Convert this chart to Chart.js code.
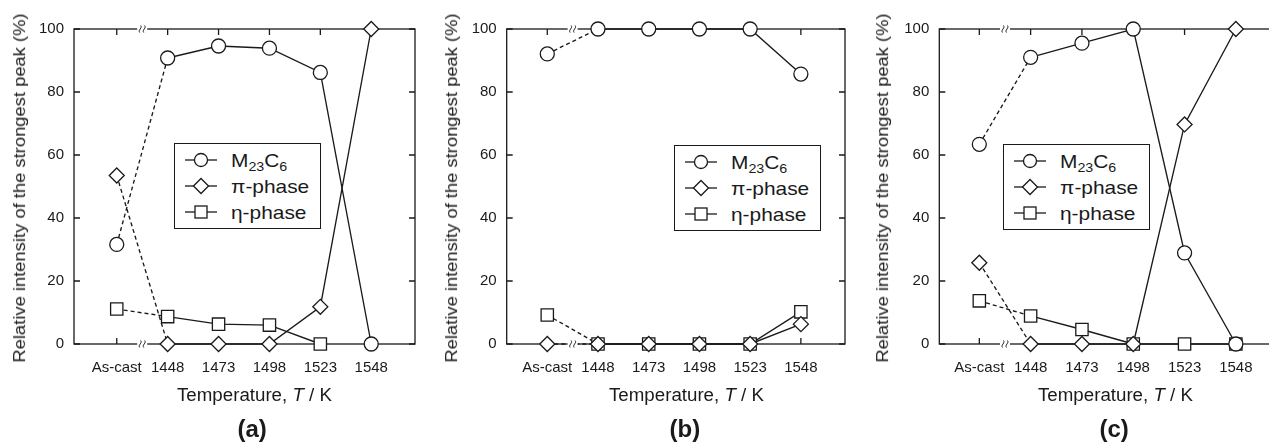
<!DOCTYPE html>
<html><head><meta charset="utf-8">
<script src="https://cdn.jsdelivr.net/npm/chart.js@4.4.1/dist/chart.umd.min.js"></script>
<style>
html,body{margin:0;padding:0;background:#fff;overflow:hidden;width:1269px;height:443px;}
#wrap{position:relative;width:1269px;height:443px;overflow:hidden;font-family:"Liberation Sans",Arial,Helvetica,sans-serif;color:#1a1a1a;}
canvas{position:absolute;top:0;}
.t{position:absolute;white-space:nowrap;line-height:1;left:0;top:0;}
.legend{position:absolute;border:1.3px solid #1a1a1a;background:#fff;box-sizing:border-box;}
.legend svg{position:absolute;left:0;top:0;}
.lt{position:absolute;white-space:nowrap;line-height:1;font-size:19px;transform-origin:0 50%;}
.lt sub{font-size:13px;vertical-align:-4px;line-height:0;}
</style>
</head>
<body>
<div id="wrap">
  <canvas id="ca" width="425" height="443" style="left:0px;width:425px;height:443px"></canvas>
  <canvas id="cb" width="425" height="443" style="left:430px;width:425px;height:443px"></canvas>
  <canvas id="cc" width="430" height="443" style="left:860px;width:430px;height:443px"></canvas>
</div>
<script>
// ---------------- data ----------------
const categories = ['As-cast', '1448', '1473', '1498', '1523', '1548'];
const yTicks = [0, 20, 40, 60, 80, 100];
const seriesNames = ['M<sub>23</sub>C<sub>6</sub>', 'π-phase', 'η-phase'];
const panelLabels = ['(a)', '(b)', '(c)'];

const m23c6A = [31.6, 90.8, 94.6, 93.9, 86.2, 0];
const piA    = [53.5, 0, 0, 0, 11.8, 100];
const etaA   = [11.1, 8.7, 6.3, 6.0, 0, null];

const m23c6B = [92.1, 100, 100, 100, 100, 85.7];
const piB    = [0, 0, 0, 0, 0, 6.3];
const etaB   = [9.2, 0, 0, 0, 0, 10.2];

const m23c6C = [63.4, 91.0, 95.5, 100, 28.9, 0];
const piC    = [25.8, 0, 0, 0, 69.7, 100];
const etaC   = [13.7, 8.9, 4.6, 0, 0, 0];

// ---------------- drawing ----------------
const INK = '#1a1a1a';
const FONT = '"Liberation Sans", Arial, Helvetica, sans-serif';
const pointStyles = ['circle', 'rectRot', 'rect'];
const pointRadii = [7, 7.5, 8.7];

function toXY(vals) { return vals.map((v, i) => ({x: i, y: v})); }

const framePlugin = {
  id: 'frame',
  beforeDatasetsDraw(chart) {
    const ctx = chart.ctx;
    const {left, right, top, bottom} = chart.chartArea;
    const xs = chart.scales.x, ys = chart.scales.y;
    ctx.save();
    ctx.strokeStyle = INK; ctx.lineWidth = 1.3;
    ctx.strokeRect(left, top, right - left, bottom - top);
    ctx.beginPath();
    yTicks.forEach(v => {
      const py = ys.getPixelForValue(v);
      ctx.moveTo(left, py); ctx.lineTo(left + 6, py);
      ctx.moveTo(right, py); ctx.lineTo(right - 6, py);
    });
    categories.forEach((c, i) => {
      const px = xs.getPixelForValue(i);
      ctx.moveTo(px, bottom); ctx.lineTo(px, bottom - 6);
      ctx.moveTo(px, top); ctx.lineTo(px, top + 6);
    });
    ctx.stroke();
    ctx.restore();
  },
  afterDatasetsDraw(chart) {
    const ctx = chart.ctx;
    const {top, bottom} = chart.chartArea;
    const xb = chart.scales.x.getPixelForValue(0.5);
    ctx.save();
    [top, bottom].forEach(y => {
      ctx.fillStyle = '#fff';
      ctx.fillRect(xb - 5, y - 2, 10, 4);
      ctx.strokeStyle = INK; ctx.lineWidth = 1;
      [-2, 2].forEach(dx => {
        const x = xb + dx;
        ctx.beginPath();
        ctx.moveTo(x - 0.5, y + 3.5);
        ctx.bezierCurveTo(x - 2.5, y + 1, x + 2.5, y - 1, x + 0.5, y - 3.5);
        ctx.stroke();
      });
    });
    ctx.restore();
  }
};

function makePanel(id, canvasW, areaLeft, areaRight, xMin, xMax, series) {
  const datasets = series.map((vals, k) => ({
    label: seriesNames[k],
    data: toXY(vals),
    borderColor: INK,
    borderWidth: 1.35,
    pointStyle: pointStyles[k],
    pointRadius: pointRadii[k],
    pointBackgroundColor: '#fff',
    pointBorderColor: INK,
    pointBorderWidth: 1.3,
    clip: false,
    tension: 0,
    spanGaps: false,
    segment: { borderDash: ctx => ctx.p0DataIndex === 0 ? [4, 3] : undefined }
  }));
  return new Chart(document.getElementById(id), {
    type: 'line',
    data: { datasets },
    plugins: [framePlugin],
    options: {
      responsive: false, animation: false, events: [],
      layout: { padding: { top: 29, right: canvasW - areaRight, left: 0, bottom: 0 } },
      plugins: { legend: { display: false }, tooltip: { enabled: false } },
      scales: {
        x: {
          type: 'linear', min: xMin, max: xMax,
          afterBuildTicks: s => { s.ticks = categories.map((c, i) => ({ value: i })); },
          afterFit: s => { s.height = 443 - 344; },
          ticks: { callback: v => categories[v], font: { size: 15, family: FONT }, color: INK, padding: 15, maxRotation: 0, autoSkip: false },
          grid: { display: false, drawTicks: false, tickLength: 0 }, border: { display: false }
        },
        y: {
          min: 0, max: 100,
          afterFit: s => { s.width = areaLeft; },
          ticks: { stepSize: 20, font: { size: 15, family: FONT }, color: INK, padding: 10 },
          grid: { display: false, drawTicks: false, tickLength: 0 }, border: { display: false }
        }
      }
    }
  });
}

makePanel('ca', 425, 74, 416, -0.84, 5.86, [m23c6A, piA, etaA]);
makePanel('cb', 425, 76.7, 417.7, -0.80, 5.87, [m23c6B, piB, etaB]);
makePanel('cc', 430, 79.3, 420.5, -0.78, 5.86, [m23c6C, piC, etaC]);

// ---------------- html text ----------------
const wrap = document.getElementById('wrap');
function addText(html, css, cx, cy, targetW, rot) {
  const el = document.createElement('div');
  el.className = 't';
  el.innerHTML = html;
  Object.assign(el.style, css);
  wrap.appendChild(el);
  const w = el.offsetWidth, h = el.offsetHeight;
  const s = targetW ? targetW / w : 1;
  el.style.left = (cx - w / 2) + 'px';
  el.style.top = (cy - h / 2) + 'px';
  el.style.transform = (rot ? 'rotate(-90deg) ' : '') + 'scaleX(' + s + ')';
  return el;
}
const yTitle = 'Relative intensity of the strongest peak (%)';
const xTitle = 'Temperature, <i>T</i> / K';
const panels = [
  { yx: 20, xx: 254.5, lx: 252, legend: [174, 143] },
  { yx: 452, xx: 686.5, lx: 685, legend: [674, 145] },
  { yx: 883, xx: 1115, lx: 1114, legend: [1003, 144] }
];
panels.forEach((p, k) => {
  addText(yTitle, { fontSize: '16px' }, p.yx, 187.5, 349, true);
  addText(xTitle, { fontSize: '17.5px' }, p.xx, 396, 155, false);
  addText(panelLabels[k], { fontSize: '24px', fontWeight: 'bold' }, p.lx, 429, 0, false);

  // legend
  const lg = document.createElement('div');
  lg.className = 'legend';
  Object.assign(lg.style, { left: p.legend[0] + 'px', top: p.legend[1] + 'px', width: '147px', height: '86px' });
  const rows = [17, 43, 69];
  let svg = '<svg width="147" height="86" xmlns="http://www.w3.org/2000/svg">';
  rows.forEach((ry, i) => {
    const y = ry - 1, cx = 26;
    svg += `<line x1="10" y1="${y}" x2="42" y2="${y}" stroke="${INK}" stroke-width="1.3"/>`;
    if (i === 0) svg += `<circle cx="${cx}" cy="${y}" r="6.5" fill="#fff" stroke="${INK}" stroke-width="1.3"/>`;
    if (i === 1) svg += `<polygon points="${cx-7.5},${y} ${cx},${y-7.5} ${cx+7.5},${y} ${cx},${y+7.5}" fill="#fff" stroke="${INK}" stroke-width="1.3"/>`;
    if (i === 2) svg += `<rect x="${cx-6}" y="${y-6}" width="12" height="12" fill="#fff" stroke="${INK}" stroke-width="1.3"/>`;
  });
  svg += '</svg>';
  lg.innerHTML = svg;
  wrap.appendChild(lg);
  const els = rows.map((ry, i) => {
    const el = document.createElement('div');
    el.className = 'lt';
    el.innerHTML = seriesNames[i];
    lg.appendChild(el);
    el.style.left = '56px';
    el.style.top = (ry - 1 - el.offsetHeight / 2) + 'px';
    return el;
  });
  const s = 78 / els[1].offsetWidth;
  els.forEach(el => { el.style.transform = 'scaleX(' + s + ')'; });
});
</script>
</body></html>
